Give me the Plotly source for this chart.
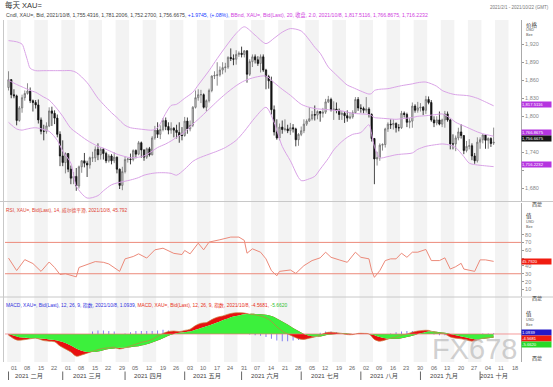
import pandas as pd
import plotly.graph_objects as go

# ---------------- data ----------------
start = "2021-02-01"

open_ = [1848,1861,1836,1834,1793,1814,1831,1838,1842,1826,
         1823,1819,1794,1775,1775,1784,1809,1805,1797,1770,
         1734,1723,1738,1712,1697,1700,1684,1716,1726,1722,
         1719,1731,1731,1745,1736,1745,1738,1726,1734,1726,
         1732,1712,1685,1708,1728,1729,1728,1743,1737,1756,
         1744,1732,1746,1736,1764,1777,1770,1778,1793,1783,
         1777,1780,1777,1773,1768,1768,1792,1779,1785,1815,
         1831,1836,1836,1815,1826,1843,1867,1868,1869,1877,
         1881,1882,1898,1896,1895,1903,1905,1903,1909,1870,
         1891,1899,1894,1888,1899,1877,1866,1859,1811,1774,
         1764,1782,1778,1779,1776,1781,1779,1761,1770,1776,
         1787,1792,1796,1803,1802,1808,1805,1807,1824,1828,
         1811,1812,1810,1803,1805,1801,1797,1799,1806,1828,
         1814,1813,1810,1812,1803,1763,1729,1731,1752,1753,
         1779,1787,1786,1788,1781,1781,1805,1803,1790,1792,
         1817,1810,1814,1815,1810,1828,1823,1794,1789,1794,
         1787,1794,1804,1794,1754,1754,1764,1774,1768,1743,
         1750,1751,1734,1726,1757,1761,1769,1760,1763,1755.43]

high = [1875,1862,1845,1836,1817,1836,1843,1855,1848,1828,
        1827,1828,1798,1786,1790,1815,1816,1810,1803,1775,
        1760,1740,1739,1718,1707,1714,1718,1727,1739,1726,
        1733,1741,1750,1755,1748,1747,1741,1737,1737,1740,
        1733,1713,1716,1733,1731,1738,1745,1745,1759,1758,
        1745,1748,1749,1767,1784,1790,1785,1797,1798,1790,
        1790,1782,1786,1790,1782,1799,1798,1793,1817,1843,
        1845,1844,1838,1828,1846,1868,1875,1890,1883,1890,
        1889,1900,1913,1903,1910,1908,1916,1910,1910,1895,
        1903,1903,1900,1903,1903,1879,1869,1866,1818,1795,
        1788,1793,1795,1786,1789,1787,1781,1772,1783,1795,
        1795,1815,1809,1818,1810,1809,1814,1829,1834,1831,
        1825,1823,1813,1809,1808,1810,1807,1810,1832,1832,
        1820,1816,1832,1815,1805,1764,1741,1755,1755,1781,
        1790,1795,1795,1790,1787,1809,1808,1806,1797,1823,
        1820,1824,1822,1817,1834,1833,1827,1800,1800,1808,
        1796,1809,1808,1796,1770,1768,1781,1787,1768,1759,
        1762,1755,1739,1765,1765,1770,1770,1765,1765,1781.20]

low = [1843,1830,1830,1785,1791,1806,1826,1836,1822,1808,
       1813,1788,1770,1760,1771,1782,1784,1787,1765,1717,
       1717,1705,1707,1687,1687,1676,1680,1706,1715,1699,
       1713,1724,1724,1727,1728,1728,1722,1723,1720,1722,
       1705,1679,1677,1705,1723,1720,1725,1730,1735,1731,
       1726,1729,1733,1735,1761,1764,1762,1775,1777,1770,
       1771,1765,1763,1756,1760,1766,1771,1775,1782,1813,
       1826,1822,1813,1808,1823,1840,1862,1851,1866,1870,
       1873,1879,1892,1885,1886,1899,1898,1898,1856,1867,
       1882,1888,1884,1873,1874,1845,1846,1803,1768,1761,
       1760,1771,1775,1772,1769,1773,1750,1751,1767,1772,
       1784,1791,1793,1793,1795,1791,1798,1804,1822,1808,
       1794,1805,1794,1794,1789,1791,1795,1796,1804,1809,
       1806,1805,1806,1798,1758,1687,1718,1726,1743,1748,
       1774,1779,1778,1773,1775,1779,1798,1782,1780,1781,
       1806,1806,1808,1802,1804,1820,1791,1782,1785,1785,
       1782,1781,1791,1745,1745,1742,1760,1763,1737,1740,
       1745,1727,1721,1723,1746,1755,1746,1746,1749,1752.27]

close = [1861,1836,1834,1793,1814,1831,1838,1842,1826,1823,
         1819,1794,1775,1775,1784,1809,1805,1797,1770,1734,
         1723,1738,1712,1697,1700,1684,1716,1726,1722,1719,
         1731,1731,1745,1736,1745,1738,1726,1734,1726,1732,
         1712,1685,1708,1728,1729,1728,1743,1737,1756,1744,
         1732,1746,1736,1764,1777,1770,1778,1793,1783,1777,
         1780,1777,1773,1768,1768,1792,1779,1785,1815,1831,
         1836,1836,1815,1826,1843,1867,1868,1869,1877,1881,
         1882,1898,1896,1895,1903,1905,1903,1909,1870,1891,
         1899,1894,1888,1899,1877,1866,1859,1811,1774,1764,
         1782,1778,1779,1776,1781,1779,1761,1770,1776,1787,
         1792,1796,1803,1802,1808,1805,1807,1824,1828,1811,
         1812,1810,1803,1805,1801,1797,1799,1806,1828,1814,
         1813,1810,1812,1803,1763,1729,1731,1752,1753,1779,
         1787,1786,1788,1781,1781,1805,1803,1790,1792,1817,
         1810,1814,1815,1810,1828,1823,1794,1789,1794,1787,
         1794,1804,1794,1754,1754,1764,1774,1768,1743,1750,
         1751,1734,1726,1757,1761,1769,1760,1763,1754.70,1756.67]

band_dates = ["02-01","02-04","02-08","02-09","02-10","02-11","02-15","02-18","02-22","02-25",
              "03-01","03-04","03-08","03-12","03-18","03-22","03-25","03-29","04-01","04-05",
              "04-08","04-12","04-15","04-19","04-22","04-26","04-28","05-03","05-06","05-10",
              "05-14","05-19","05-24","05-28","06-02","06-08","06-14","06-17","06-22","06-25",
              "07-01","07-06","07-08","07-12","07-15","07-19","07-22","07-26","07-28","08-02",
              "08-05","08-06","08-09","08-11","08-16","08-19","08-23","08-27","08-31","09-03",
              "09-09","09-13","09-16","09-20","09-23","09-27","09-30","10-04","10-08"]
bb_upper = [1926,1924,1920,1908,1893,1880,1876,1876,1876,1876,
            1876,1876,1873,1856,1830,1820,1806,1798,1785,1781,
            1779,1778,1777,1781,1805,1818,1820,1830,1840,1852,
            1876,1896,1915,1938,1949,1935,1921,1930,1940,1946,
            1942,1927,1915,1905,1882,1873,1860,1852,1848,1842,
            1837,1838,1843,1845,1846,1849,1851,1854,1856,1857,
            1850,1843,1838,1836,1835,1834,1830,1826,1817.51]
bb_middle = [1860,1853,1849,1847,1845,1843,1840,1832,1827,1812,
             1800,1780,1773,1760,1750,1747,1741,1737,1733,1731,
             1732,1734,1742,1748,1754,1759,1765,1774,1787,1795,
             1812,1825,1837,1851,1859,1865,1867,1856,1845,1835,
             1820,1815,1813,1812,1811,1810,1809,1807,1805,1804,
             1803,1801,1798,1797,1796,1795,1796,1798,1800,1801,
             1803,1804,1797,1790,1784,1780,1774,1771,1766.87]
bb_lower = [1790,1779,1777,1778,1779,1780,1781,1778,1775,1760,
            1742,1722,1684,1664,1668,1676,1686,1689,1692,1694,
            1698,1702,1705,1706,1706,1705,1702,1712,1725,1730,
            1737,1742,1748,1760,1775,1798,1815,1790,1750,1726,
            1693,1696,1700,1712,1730,1744,1758,1765,1770,1773,
            1786,1770,1750,1731,1733,1736,1737,1739,1745,1750,
            1753,1754,1752,1748,1733,1722,1719,1718,1716.22]

rsi_dates = ["02-01","02-04","02-09","02-12","02-17","02-22","02-24","02-26","03-02","03-08",
             "03-09","03-12","03-17","03-22","03-24","03-30","04-01","04-06","04-08","04-13",
             "04-16","04-21","04-27","04-30","05-03","05-05","05-10","05-12","05-14","05-20",
             "05-26","05-31","06-02","06-03","06-07","06-10","06-14","06-16","06-18","06-21",
             "06-25","06-29","07-02","07-07","07-12","07-14","07-16","07-21","07-26","07-29",
             "08-02","08-05","08-06","08-09","08-11","08-13","08-17","08-19","08-23","08-25",
             "08-27","08-31","09-02","09-03","09-07","09-10","09-14","09-16","09-20","09-22",
             "09-23","09-29","10-01","10-05","10-08"]
rsi_values = [50,34,48,43,33,45,38,29,30,26,
              38,41.6,45.5,44.6,42.5,33,49,52,55.4,50,
              60.5,62.6,56,54.5,59.7,55.4,69,60.5,70.4,73.4,
              76.8,76.8,72.6,56.2,61.8,57.5,49,34,27.4,33,
              34.8,30.4,40.3,46.8,50.3,57.5,51,47.7,44.6,57.5,
              51,49,34,25.4,34,46.8,49,49,56.2,51,
              57.5,57.5,59.7,61,46.8,46.8,50.3,36,39,43.3,
              36,33,47.7,47.7,45.79]

macd_dates = ["02-01","02-04","02-08","02-11","02-15","02-18","02-22","02-24","02-26","03-02",
              "03-04","03-08","03-10","03-12","03-16","03-18","03-22","03-24","03-26","03-30",
              "04-01","04-05","04-07","04-09","04-13","04-15","04-19","04-21","04-23","04-27",
              "04-29","05-03","05-05","05-07","05-11","05-13","05-17","05-19","05-21","05-25",
              "05-27","05-31","06-02","06-04","06-08","06-10","06-14","06-16","06-18","06-22",
              "06-24","06-28","06-30","07-02","07-06","07-08","07-12","07-14","07-16","07-20",
              "07-22","07-26","07-28","07-30","08-03","08-05","08-09","08-11","08-13","08-17",
              "08-19","08-23","08-25","08-27","08-31","09-02","09-06","09-08","09-10","09-14",
              "09-16","09-20","09-22","09-24","09-28","09-30","10-04","10-06","10-08"]
macd_line = [-2,-10,-10,-8,-7,-11,-12,-13,-20,-25,
             -30,-37,-35,-32,-29,-26,-24,-23,-22,-25,
             -23,-20,-17,-14,-12,-9,-4,1,4,5,
             4,6,8,14,18,19,24,28,30,33,
             35,35.5,35,33,32,30,27,21,12,5,
             0,-4,-8,-9,-7,-5,-2,2,3,2,
             1,-1,-1,1,1,0,-9,-12,-10,-7,
             -5,-2,0,3,5,6,6,3,1,0,
             -5,-7,-8,-10,-12,-10,-7,-6,-4.57]
macd_signal = [0,-4,-6,-7,-7,-8,-9,-10,-12,-15,
               -19,-24,-28,-30,-30,-29,-27,-25,-24,-23,
               -23,-22,-21,-19,-17,-14,-11,-7,-3,0,
               2,3,4,7,10,13,16,19,23,26,
               29,31,33,33.5,33.5,33,32,30,26,21,
               16,10,5,0,-3,-4,-4,-2,-1,0,
               1,1,0,0,0,0,-2,-5,-7,-8,
               -8,-7,-5,-3,0,2,4,4,3,2,
               0,-2,-4,-6,-8,-9,-8,-7,-5.66]
macd_hist = [-1,-4,-3,-1,0,-2,-2,-2,-5,-6,
             -7,-8,-4,0,4,6,6,5,4,-1,
             1,3,5,5,5,5,6,7,6,4,
             2,3,4,6,7,5,6,7,6,6,
             5,4,2,-1,-2,-3,-5,-8,-11,-12,
             -12,-11,-10,-7,-3,-1,2,4,4,3,
             1,-1,-1,1,1,0,-6,-6,-3,1,
             3,4,5,5,5,4,2,-1,-2,-2,
             -4,-5,-4,-4,-4,-1,1,1,1.09]

month_names = ["2021 二月", "2021 三月", "2021 四月", "2021 五月", "2021 六月",
               "2021 七月", "2021 八月", "2021 九月", "2021 十月"]

# ---------------- geometry helpers ----------------
W, H = 553, 387
PL, PR, PT, PB = 5, 521, 20, 362
XMIN, XMAX = -1.3, 189.1


def fx(p):
    return (p - PL) / (PR - PL)


def fy(p):
    return (PB - p) / (PB - PT)


bdays = pd.bdate_range(start, "2021-10-29")
pos = {d.strftime("%m-%d"): k for k, d in enumerate(bdays)}
xi = list(range(len(close)))
bx = [pos[d] for d in band_dates]
rx = [pos[d] for d in rsi_dates]
mx = [pos[d] for d in macd_dates]

FONT = "Liberation Sans, Noto Sans CJK SC, sans-serif"
BAND = "#d9a3e6"
RSIC = "#ec8a7a"

fig = go.Figure()

# Bollinger bands
for vals in (bb_upper, bb_middle, bb_lower):
    fig.add_trace(go.Scatter(x=bx, y=vals, mode="lines", line=dict(color=BAND, width=1, shape="spline", smoothing=0.8),
                             hoverinfo="skip", xaxis="x", yaxis="y"))

# candles
fig.add_trace(go.Candlestick(x=xi, open=open_, high=high, low=low, close=close,
                             increasing=dict(line=dict(color="#707070", width=0.8), fillcolor="#d4d4d4"),
                             decreasing=dict(line=dict(color="#111111", width=0.8), fillcolor="#111111"),
                             whiskerwidth=0, hoverinfo="skip", xaxis="x", yaxis="y"))

# RSI
fig.add_trace(go.Scatter(x=rx, y=rsi_values, mode="lines", line=dict(color=RSIC, width=1),
                         hoverinfo="skip", xaxis="x", yaxis="y2"))

# MACD panel
fig.add_trace(go.Bar(x=mx, y=macd_hist, width=0.35, marker=dict(color="#7a78f0", line=dict(width=0)),
                     hoverinfo="skip", xaxis="x", yaxis="y3"))
zeros = [0] * len(mx)
fig.add_trace(go.Scatter(x=mx, y=macd_signal, mode="lines", line=dict(width=0, shape="spline"),
                         hoverinfo="skip", xaxis="x", yaxis="y3"))
fig.add_trace(go.Scatter(x=mx, y=macd_line, mode="lines", line=dict(width=0, shape="spline"),
                         fill="tonexty", fillcolor="#e81010", hoverinfo="skip", xaxis="x", yaxis="y3"))
fig.add_trace(go.Scatter(x=mx, y=zeros, mode="lines", line=dict(width=0),
                         hoverinfo="skip", xaxis="x", yaxis="y3"))
fig.add_trace(go.Scatter(x=mx, y=macd_signal, mode="lines", line=dict(width=0, shape="spline"),
                         fill="tonexty", fillcolor="#3cf03c", hoverinfo="skip", xaxis="x", yaxis="y3"))
fig.add_trace(go.Scatter(x=mx, y=macd_line, mode="lines", line=dict(width=0.7, color="#c88040", shape="spline"),
                         hoverinfo="skip", xaxis="x", yaxis="y3"))

shapes = []
# weekly stripes
for w in range(0, 39):
    if w % 2 == 0:
        shapes.append(dict(type="rect", xref="x", yref="paper", x0=5 * w - 0.5, x1=5 * w + 4.5,
                           y0=0, y1=1, fillcolor="#f3f3f3", line=dict(width=0), layer="below"))
# RSI reference lines
for lv in (70, 30):
    shapes.append(dict(type="line", xref="paper", yref="y2", x0=0, x1=1, y0=lv, y1=lv,
                       line=dict(color=RSIC, width=1)))
# MACD zero line
shapes.append(dict(type="line", xref="paper", yref="y3", x0=0, x1=1, y0=0, y1=0,
                   line=dict(color="#f07070", width=0.7)))
# panel separators
for p in (201.5, 297):
    shapes.append(dict(type="line", xref="paper", yref="paper", x0=fx(0), x1=fx(553), y0=fy(p), y1=fy(p),
                       line=dict(color="#c8c8c8", width=1)))
# left border
shapes.append(dict(type="line", xref="paper", yref="paper", x0=fx(3.5), x1=fx(3.5), y0=fy(PT), y1=fy(PB),
                   line=dict(color="#c8c8c8", width=1)))
# month separators
month_starts = []
prev = None
for k, d in enumerate(bdays):
    if d.month != prev:
        month_starts.append(k)
        prev = d.month
month_starts = month_starts[:len(month_names)]
for ms in month_starts:
    shapes.append(dict(type="line", xref="x", yref="paper", x0=ms, x1=ms, y0=fy(371.5), y1=fy(380),
                       line=dict(color="#666", width=1)))

ann = []


def text(x, y, t, size=5, color="#333", xanchor="left", **kw):
    ann.append(dict(x=fx(x), y=fy(y), xref="paper", yref="paper", text=t, showarrow=False,
                    xanchor=xanchor, yanchor="middle", font=dict(size=size, color=color, family=FONT), **kw))


# titles
text(3, 5.5, "每天 XAU=", 7.5, "#333")
text(4, 15, "Cndl, XAU=, Bid, 2021/10/8, 1,755.4316, 1,781.2006, 1,752.2700, 1,756.6675, "
     "<span style='color:#2040ff'>+1.9745, (+.08%), </span>"
     "<span style='color:#d040e0'>BBnd, XAU=, Bid(Last), 20, 收盘, 2.0, 2021/10/8, "
     "1,817.5116, 1,766.8675, 1,716.2232</span>", 5.2, "#444")
text(551, 7, "2021/2/1 - 2021/10/22 (GMT)", 4.5, "#777", xanchor="right")
text(4, 210, "RSI, XAU=, Bid(Last), 14, 威尔德平滑, 2021/10/8, 45.792", 4.8, "#e04434")
text(4, 305.5, "<span style='color:#3030e0'>MACD, XAU=, Bid(Last), 12, 26, 9, 指数, 2021/10/8, 1.0939, </span>"
     "<span style='color:#e83020'>MACD, XAU=, Bid(Last), 12, 26, 9, 指数, 2021/10/8, -4.5681, </span>"
     "<span style='color:#30c030'>-5.6620</span>", 4.9, "#333")

# right headers
for (yy, head) in ((25, "价格"), (216, "值"), (314, "值")):
    text(524, yy, head, 5.5, "#333")
    text(524, yy + 5.5, "USD", 3.8, "#555")
    text(524, yy + 10.5, "Bze", 3.8, "#555")

# small corner labels
for yy in (204, 298.5, 358):
    text(537, yy, "西蒙", 5, "#333", xanchor="center")


def box(y, t, bg, fg="white"):
    ann.append(dict(x=fx(521), y=fy(y), xref="paper", yref="paper", text=t, showarrow=False,
                    xanchor="left", yanchor="middle", bgcolor=bg, borderpad=0, width=29, height=5,
                    align="left", font=dict(size=4.2, color=fg, family=FONT)))


box(105, "1,817.5116", "#b535e0")
box(132, "1,766.8675", "#b535e0")
box(138.5, "1,756.6675", "#151515")
box(164.5, "1,716.2232", "#b535e0")
box(261, "45.7920", "#f01c10")
box(332, "1.0939", "#2418c8")
box(338, "-4.5681", "#f01c10")
box(344, "-5.6620", "#28d828")

# day labels (Mondays)
for w in range(0, 38):
    k = 5 * w
    ann.append(dict(x=k, y=fy(367.5), xref="x", yref="paper", text=f"{bdays[k].day:02d}", showarrow=False,
                    xanchor="left", yanchor="middle", font=dict(size=5.6, color="#666", family=FONT)))
# month labels
ends = month_starts[1:] + [XMAX]
for name, s, e in zip(month_names, month_starts, ends):
    ann.append(dict(x=(s + e) / 2 - 2.4, y=fy(376), xref="x", yref="paper", text=name, showarrow=False,
                    xanchor="center", yanchor="middle", font=dict(size=6.2, color="#444", family=FONT)))

# watermark
text(474, 348.5, "FX678", 29, "rgba(170,170,170,0.55)", xanchor="center", height=22)

main_ticks = list(range(1680, 1921, 30))
rsi_ticks = [10, 20, 30, 40, 50, 60, 70, 80]

fig.update_layout(
    width=W, height=H,
    margin=dict(l=PL, r=W - PR, t=PT, b=H - PB),
    paper_bgcolor="white", plot_bgcolor="white",
    showlegend=False, barmode="overlay", hovermode=False,
    font=dict(family=FONT, size=6, color="#555"),
    xaxis=dict(range=[XMIN, XMAX], showticklabels=False, showgrid=False, zeroline=False,
               rangeslider=dict(visible=False), anchor="y3", domain=[0, 1]),
    yaxis=dict(domain=[fy(201.5), 1], range=[1658.2, 1960.3], side="right", anchor="x",
               tickvals=main_ticks,
               ticktext=["" if v in (1710, 1770) else f"{v:,}" for v in main_ticks],
               ticks="outside", ticklen=2, tickcolor="#999", tickfont=dict(size=5.5, color="#888"),
               showline=True, linecolor="#aaa", linewidth=1, showgrid=False, zeroline=False),
    yaxis2=dict(domain=[fy(297), fy(203)], range=[0.3, 120.3], side="right", anchor="x",
                tickvals=rsi_ticks, ticktext=["" if v == 50 else str(v) for v in rsi_ticks],
                ticks="outside", ticklen=2, tickcolor="#999",
                tickfont=dict(size=5.5, color="#888"), showline=True, linecolor="#aaa", linewidth=1,
                showgrid=False, zeroline=False),
    yaxis3=dict(domain=[0, fy(298)], range=[-46.7, 60], side="right", anchor="x",
                showticklabels=False, ticks="", showline=True, linecolor="#aaa", linewidth=1,
                showgrid=False, zeroline=False),
    shapes=shapes, annotations=ann,
)

fig.write_html("out.html", config={"displayModeBar": False, "staticPlot": True},
               post_script="document.body.style.margin='0px';")
